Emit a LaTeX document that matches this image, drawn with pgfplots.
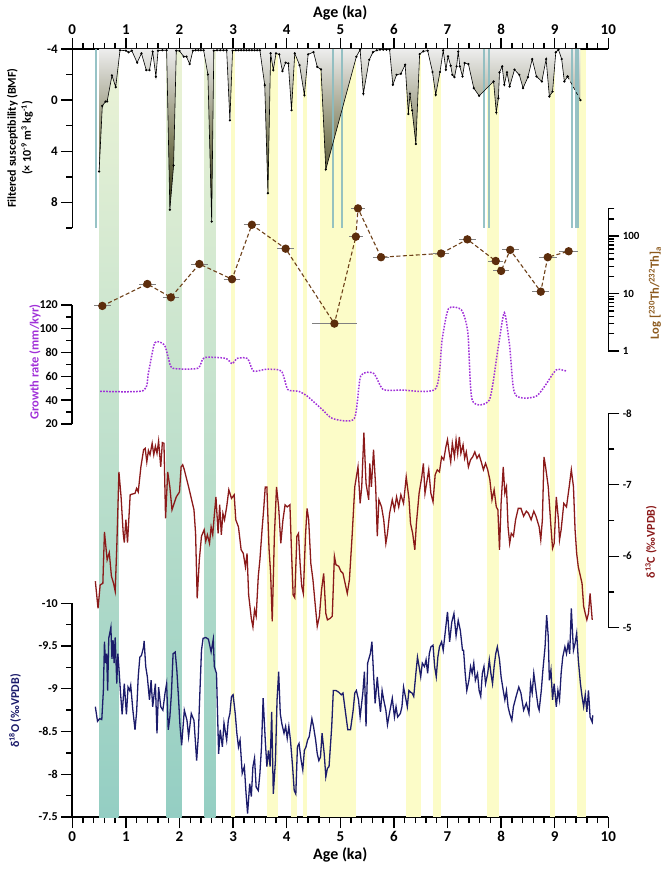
\documentclass[border=0pt]{standalone}
\usepackage{fontspec}
\setmainfont{Carlito}
\usepackage{pgfplots}
\pgfplotsset{compat=1.18}
\definecolor{bandyellow}{RGB}{252,252,200}
\definecolor{bandtop}{RGB}{236,243,214}
\definecolor{bandbot}{RGB}{148,206,195}
\definecolor{tealline}{RGB}{140,188,192}
\definecolor{brownpt}{RGB}{92,45,12}
\definecolor{brownln}{RGB}{110,65,25}
\definecolor{brownlab}{RGB}{140,90,30}
\definecolor{purp}{RGB}{160,48,216}
\definecolor{dred}{RGB}{139,26,26}
\definecolor{navyb}{RGB}{28,28,107}
\pgfplotsset{
  base/.style={scale only axis, width=536pt, xmin=0, xmax=10, anchor=south west,
    tick align=outside, major tick length=11pt, minor tick length=6pt,
    axis line style={line width=1.6pt, black}, tick style={line width=1.4pt, black},
    /pgf/number format/assume math mode=true, clip=false},
  leftpanel/.style={base, axis x line=none, axis y line*=left,
    yticklabel style={font=\fontsize{12}{12}\selectfont\bfseries}},
  rightpanel/.style={base, axis x line=none, axis y line*=right,
    yticklabel style={font=\fontsize{11}{11}\selectfont\bfseries}},
}
\begin{document}
\begin{tikzpicture}
\useasboundingbox (0pt,0pt) rectangle (671pt,871pt);
% background bands + bottom x axis
\begin{axis}[base, at={(72.3pt,54pt)}, height=768pt, ymin=0, ymax=1,
  axis y line=none, axis x line*=bottom, xtick={0,1,...,10}, minor x tick num=4,
  xticklabel style={font=\fontsize{15}{15}\selectfont\bfseries}]
\pgfplotsinvokeforeach{{0.50/0.86},{1.76/2.04},{2.47/2.67}}{
  \pgfplotsforeachungrouped \a/\b in {#1}{
  \edef\tmp{\noexpand\addplot[draw=none, top color=bandtop, bottom color=bandbot] coordinates {(\a,0) (\b,0) (\b,1) (\a,1)};}\tmp}
}
\pgfplotsinvokeforeach{{2.97/3.04},{3.64/3.83},{4.08/4.19},{4.30/4.38},{4.63/5.29},{6.23/6.51},{6.73/6.87},{7.74/7.96},{8.91/9.01},{9.42/9.58}}{
  \pgfplotsforeachungrouped \a/\b in {#1}{
  \edef\tmp{\noexpand\addplot[draw=none, fill=bandyellow] coordinates {(\a,0) (\b,0) (\b,1) (\a,1)};}\tmp}
}
\end{axis}
% top x axis
\begin{axis}[base, at={(72.3pt,54pt)}, height=768pt, ymin=0, ymax=1,
  axis y line=none, axis x line*=top, xticklabel pos=upper, xtick={0,1,...,10}, minor x tick num=4,
  xticklabel style={font=\fontsize{15}{15}\selectfont\bfseries}]
\end{axis}
% filtered susceptibility
\begin{axis}[leftpanel, at={(72.3pt,643pt)}, height=179pt, ymin=-4, ymax=10, y dir=reverse,
  ytick={-4,0,4,8}, minor ytick={-2,2,6,10},
  yticklabel style={font=\fontsize{13}{13}\selectfont\bfseries}]
\addplot[draw=none, top color=black!7, bottom color=black!75!olive] coordinates {
(0.50,-4)(0.50,5.58)(0.56,0.45)(0.62,0.11)(0.65,0.1)(0.74,-1.93)(0.81,-1.02)(0.89,-3.9)(1.0,-3.87)(1.05,-3.74)(1.11,-3.87)(1.21,-2.93)(1.29,-3.66)(1.38,-2.35)(1.44,-2.35)(1.50,-3.79)(1.56,-1.83)(1.60,-3.87)(1.68,-3.9)(1.76,-3.9)(1.82,8.57)(1.89,5.1)(1.94,-3.87)(2.00,-3.85)(2.08,-3.4)(2.13,-3.4)(2.19,-2.82)(2.25,-3.87)(2.45,-3.9)(2.53,-2.0)(2.60,9.5)(2.64,-3.87)(2.88,-3.9)(2.94,1.58)(2.99,-3.87)(3.5,-3.9)(3.59,-1.17)(3.65,7.28)(3.70,-3.66)(3.75,-2.35)(3.80,-3.66)(3.86,-3.58)(3.92,-2.27)(3.98,-2.93)(4.03,-2.87)(4.09,0.79)(4.15,-3.66)(4.24,-2.74)(4.33,-0.39)(4.40,-3.58)(4.50,-3.76)(4.57,-2.6)(4.64,-2.4)(4.73,5.42)(5.3,-3.4)(5.37,-3.95)(5.43,-0.5)(5.54,-3.16)(5.61,-3.76)(5.74,-3.95)(5.92,-3.95)(5.98,-1.2)(6.05,-1.98)(6.13,-2.06)(6.21,-2.77)(6.27,1.08)(6.30,-0.5)(6.34,0.8)(6.41,3.43)(6.48,-3.6)(6.55,-3.82)(6.63,-3.87)(6.72,-2.2)(6.78,-0.41)(6.86,-2.2)(6.92,-3.9)(6.97,-2.38)(7.01,-3.42)(7.06,-2.69)(7.09,-1.98)(7.13,-1.8)(7.17,-2.64)(7.20,-3.8)(7.23,-2.64)(7.28,-1.85)(7.32,-2.9)(7.39,-2.82)(7.49,-0.94)(7.59,-0.34)(7.86,-1.46)(7.91,0.97)(7.95,-0.15)(7.97,-2.17)(8.02,-2.64)(8.06,-1.2)(8.11,-2.17)(8.16,-1.07)(8.25,-2.38)(8.34,-1.98)(8.41,-0.94)(8.50,-1.8)(8.58,-3.21)(8.66,-1.85)(8.76,-1.46)(8.84,-3.21)(8.90,-0.28)(8.96,-0.67)(9.02,-3.74)(9.07,-3.95)(9.13,-3.21)(9.18,-1.46)(9.24,-1.85)(9.48,0.0)(9.48,-4)};
\pgfplotsinvokeforeach{0.44,4.86,5.03,7.68,7.78,9.32,9.39,9.44}{
  \addplot[tealline, line width=2.2pt, opacity=0.9] coordinates {(#1,-4) (#1,10)};}
\addplot[black, line width=0.6pt, mark=*, mark size=0.8pt] coordinates {
(0.50,5.58)(0.56,0.45)(0.62,0.11)(0.65,0.1)(0.74,-1.93)(0.81,-1.02)(0.89,-3.9)(1.0,-3.87)(1.05,-3.74)(1.11,-3.87)(1.21,-2.93)(1.29,-3.66)(1.38,-2.35)(1.44,-2.35)(1.50,-3.79)(1.56,-1.83)(1.60,-3.87)(1.68,-3.9)(1.76,-3.9)(1.82,8.57)(1.89,5.1)(1.94,-3.87)(2.00,-3.85)(2.08,-3.4)(2.13,-3.4)(2.19,-2.82)(2.25,-3.87)(2.3,-3.9)(2.35,-3.9)(2.4,-3.9)(2.45,-3.9)(2.53,-2.0)(2.60,9.5)(2.64,-3.87)(2.70,-3.9)(2.76,-3.9)(2.82,-3.9)(2.88,-3.9)(2.94,1.58)(2.99,-3.87)(3.05,-3.9)(3.1,-3.9)(3.15,-3.9)(3.2,-3.9)(3.25,-3.9)(3.3,-3.9)(3.35,-3.9)(3.4,-3.9)(3.45,-3.9)(3.5,-3.9)(3.59,-1.17)(3.65,7.28)(3.70,-3.66)(3.75,-2.35)(3.80,-3.66)(3.86,-3.58)(3.92,-2.27)(3.98,-2.93)(4.03,-2.87)(4.09,0.79)(4.15,-3.66)(4.24,-2.74)(4.33,-0.39)(4.40,-3.58)(4.50,-3.76)(4.57,-2.6)(4.64,-2.4)(4.73,5.42)(5.3,-3.4)(5.37,-3.95)(5.43,-0.5)(5.54,-3.16)(5.61,-3.76)(5.68,-3.9)(5.74,-3.95)(5.80,-3.95)(5.86,-3.95)(5.92,-3.95)(5.98,-1.2)(6.05,-1.98)(6.13,-2.06)(6.21,-2.77)(6.27,1.08)(6.30,-0.5)(6.34,0.8)(6.41,3.43)(6.48,-3.6)(6.55,-3.82)(6.63,-3.87)(6.72,-2.2)(6.78,-0.41)(6.86,-2.2)(6.92,-3.9)(6.97,-2.38)(7.01,-3.42)(7.06,-2.69)(7.09,-1.98)(7.13,-1.8)(7.17,-2.64)(7.20,-3.8)(7.23,-2.64)(7.28,-1.85)(7.32,-2.9)(7.39,-2.82)(7.49,-0.94)(7.59,-0.34)(7.86,-1.46)(7.91,0.97)(7.95,-0.15)(7.97,-2.17)(8.02,-2.64)(8.06,-1.2)(8.11,-2.17)(8.16,-1.07)(8.25,-2.38)(8.34,-1.98)(8.41,-0.94)(8.50,-1.8)(8.58,-3.21)(8.66,-1.85)(8.76,-1.46)(8.84,-3.21)(8.90,-0.28)(8.96,-0.67)(9.02,-3.74)(9.07,-3.95)(9.13,-3.21)(9.18,-1.46)(9.24,-1.85)};
\addplot[black, line width=0.6pt, dashed, mark=*, mark size=0.8pt, mark options={solid}] coordinates {(9.24,-1.85)(9.48,0.0)};
\end{axis}
% Log Th ratio
\begin{axis}[rightpanel, at={(72.3pt,520pt)}, height=142.2pt, ymode=log, ymin=1, ymax=300,
  ytick={1,10,100}, yticklabels={1,10,100},
  minor ytick={2,3,4,5,6,7,8,9,20,30,40,50,60,70,80,90,200,300}]
\addplot[brownln, line width=1.1pt, dash pattern=on 4pt off 2.5pt, mark=*, mark size=3.6pt,
  mark options={solid, fill=brownpt, draw=brownpt},
  error bars/.cd, x dir=both, x explicit,
  error bar style={black!50, line width=0.9pt, solid},
  error mark options={black!50, mark size=4pt, line width=0.9pt}]
coordinates {
(0.56,6.1) +- (0.08,0)
(1.40,14.7) +- (0.08,0)
(1.84,8.6) +- (0.08,0)
(2.37,32.8) +- (0.08,0)
(2.98,17.8) +- (0.08,0)
(3.35,158) +- (0.08,0)
(3.98,60.6) +- (0.08,0)
(4.89,3.0) +- (0.34,0)
(5.29,98) +- (0.05,0)
(5.33,305) +- (0.05,0)
(5.76,43) +- (0.08,0)
(6.88,50) +- (0.08,0)
(7.37,88) +- (0.08,0)
(7.90,37) +- (0.07,0)
(8.00,24.8) +- (0.07,0)
(8.17,57.6) +- (0.08,0)
(8.74,10.8) +- (0.08,0)
(8.87,43) +- (0.09,0)
(9.26,54.6) +- (0.1,0)
};
\end{axis}
% growth rate
\begin{axis}[leftpanel, at={(72.3pt,447pt)}, height=119pt, ymin=20, ymax=120,
  ytick={20,40,...,120}, minor ytick={30,50,...,110}]
\addplot[purp, line width=1.5pt, dash pattern=on 1.6pt off 1.4pt, smooth, tension=0.4] coordinates {
(0.52,47.5)(1.32,48)(1.42,63)(1.54,88.3)(1.72,86.4)(1.80,74)(1.88,66.8)(2.34,66.8)(2.46,75.7)(2.86,75.2)(2.98,70.7)(3.08,75.2)(3.27,75)(3.38,64.5)(3.62,66)(3.90,64.5)(4.02,49)(4.22,47.5)(4.38,43.5)(4.66,32.3)(4.86,24.5)(5.26,24.5)(5.38,60.3)(5.62,62.6)(5.80,49)(6.14,48.6)(6.78,49.7)(6.90,91)(7.02,117)(7.26,115.8)(7.38,96.7)(7.46,40.2)(7.78,40.2)(7.94,82.7)(8.06,113.6)(8.16,85.5)(8.26,45)(8.66,43.5)(8.98,63)(9.06,66)(9.22,64.5)};
\end{axis}
% d13C
\begin{axis}[rightpanel, at={(72.3pt,243.3pt)}, height=214.4pt, ymin=-8, ymax=-5, y dir=reverse,
  ytick={-8,-7,-6,-5}, yticklabels={-8,-7,-6,-5}, minor ytick={-7.5,-6.5,-5.5}]
\addplot[dred, line width=1.3pt] coordinates {
(0.43,-5.65)(0.48,-5.27)(0.52,-5.60)(0.57,-5.62)(0.60,-6.34)(0.65,-5.95)(0.69,-6.05)(0.73,-5.72)(0.77,-5.62)(0.80,-5.51)(0.83,-6.13)(0.87,-7.18)(0.91,-6.83)(0.95,-6.32)(0.97,-6.19)(1.00,-6.51)(1.03,-6.19)(1.08,-6.86)(1.12,-6.87)(1.17,-6.88)(1.20,-6.95)(1.23,-6.90)(1.28,-7.25)(1.33,-7.49)(1.36,-7.51)(1.39,-7.32)(1.42,-7.48)(1.45,-7.42)(1.49,-7.58)(1.52,-7.42)(1.55,-7.54)(1.58,-7.44)(1.61,-7.61)(1.65,-7.25)(1.68,-7.59)(1.71,-7.58)(1.74,-6.53)(1.78,-7.18)(1.82,-6.97)(1.86,-6.65)(1.90,-6.74)(1.94,-6.83)(2.00,-6.90)(2.03,-7.25)(2.06,-7.28)(2.09,-7.21)(2.13,-7.09)(2.17,-6.97)(2.22,-6.81)(2.27,-6.65)(2.30,-6.32)(2.33,-5.41)(2.37,-5.95)(2.41,-6.28)(2.46,-6.37)(2.49,-6.21)(2.52,-6.30)(2.56,-6.18)(2.59,-6.41)(2.62,-6.30)(2.65,-6.58)(2.68,-6.83)(2.72,-6.32)(2.75,-6.72)(2.78,-6.30)(2.81,-6.60)(2.84,-6.51)(2.88,-6.69)(2.92,-6.93)(2.97,-6.81)(3.02,-6.86)(3.05,-6.51)(3.10,-6.41)(3.15,-6.09)(3.19,-6.04)(3.23,-5.85)(3.26,-6.04)(3.29,-5.46)(3.34,-5.13)(3.37,-5.01)(3.40,-5.25)(3.43,-5.16)(3.47,-5.72)(3.50,-5.95)(3.54,-6.37)(3.57,-6.65)(3.60,-6.97)(3.63,-6.97)(3.67,-6.11)(3.70,-5.76)(3.73,-5.09)(3.77,-6.28)(3.81,-6.97)(3.85,-6.69)(3.89,-6.18)(3.93,-6.51)(3.97,-6.72)(4.01,-6.69)(4.06,-6.72)(4.09,-6.06)(4.12,-5.46)(4.15,-5.42)(4.19,-6.28)(4.22,-6.32)(4.25,-5.90)(4.28,-5.58)(4.31,-5.48)(4.35,-6.28)(4.38,-6.67)(4.41,-6.51)(4.45,-5.90)(4.49,-5.67)(4.53,-5.34)(4.57,-5.02)(4.61,-5.16)(4.65,-5.53)(4.69,-5.76)(4.73,-5.20)(4.76,-5.11)(4.81,-5.13)(4.85,-5.16)(4.89,-6.00)(4.92,-5.88)(4.97,-5.86)(5.01,-5.79)(5.05,-5.76)(5.09,-5.62)(5.13,-5.48)(5.17,-5.67)(5.22,-6.28)(5.27,-6.97)(5.33,-7.25)(5.37,-6.74)(5.40,-6.97)(5.44,-7.73)(5.48,-7.02)(5.53,-6.79)(5.55,-7.30)(5.58,-6.97)(5.62,-7.49)(5.66,-6.97)(5.69,-6.28)(5.72,-6.79)(5.77,-6.69)(5.81,-6.51)(5.85,-6.18)(5.88,-6.32)(5.92,-6.60)(5.97,-6.79)(6.01,-6.65)(6.05,-6.83)(6.09,-6.69)(6.13,-6.86)(6.18,-6.74)(6.23,-7.11)(6.28,-6.81)(6.31,-6.46)(6.35,-6.32)(6.39,-6.09)(6.42,-6.46)(6.47,-6.88)(6.52,-7.11)(6.55,-7.30)(6.58,-6.88)(6.61,-7.02)(6.65,-7.21)(6.69,-6.88)(6.73,-6.76)(6.77,-7.14)(6.81,-7.21)(6.85,-7.18)(6.89,-7.39)(6.93,-7.35)(6.97,-7.53)(7.00,-7.63)(7.03,-7.46)(7.06,-7.32)(7.09,-7.58)(7.13,-7.39)(7.16,-7.63)(7.19,-7.44)(7.22,-7.67)(7.25,-7.44)(7.29,-7.56)(7.32,-7.37)(7.35,-7.46)(7.39,-7.25)(7.43,-7.35)(7.47,-7.39)(7.51,-7.46)(7.55,-7.37)(7.59,-7.42)(7.63,-7.32)(7.67,-7.21)(7.71,-7.30)(7.75,-7.21)(7.79,-7.07)(7.83,-6.79)(7.87,-6.93)(7.91,-6.69)(7.94,-6.65)(7.97,-6.09)(8.00,-6.74)(8.04,-7.25)(8.07,-6.88)(8.10,-6.97)(8.13,-6.41)(8.16,-6.18)(8.19,-6.32)(8.23,-6.28)(8.27,-6.51)(8.32,-6.67)(8.37,-6.67)(8.42,-6.56)(8.47,-6.63)(8.51,-6.60)(8.56,-6.51)(8.61,-6.63)(8.65,-6.56)(8.71,-6.41)(8.74,-6.23)(8.77,-6.51)(8.80,-7.39)(8.83,-7.25)(8.88,-6.97)(8.93,-6.41)(8.96,-6.11)(8.99,-6.18)(9.03,-6.83)(9.07,-6.51)(9.09,-6.23)(9.12,-6.37)(9.17,-6.74)(9.22,-6.69)(9.27,-6.97)(9.31,-7.21)(9.35,-6.97)(9.38,-6.37)(9.41,-6.04)(9.44,-5.85)(9.48,-5.72)(9.51,-5.62)(9.54,-5.30)(9.57,-5.20)(9.60,-5.11)(9.63,-5.20)(9.66,-5.48)(9.70,-5.11)};
\end{axis}
% d18O
\begin{axis}[leftpanel, at={(72.3pt,54pt)}, height=213.7pt, ymin=-10, ymax=-7.5, y dir=reverse,
  ytick={-10,-9.5,-9,-8.5,-8,-7.5}, yticklabels={-10,-9.5,-9,-8.5,-8,-7.5},
  minor ytick={-9.75,-9.25,-8.75,-8.25,-7.75}]
\addplot[navyb, line width=1.3pt] coordinates {
(0.43,-8.79)(0.47,-8.62)(0.51,-8.65)(0.55,-8.64)(0.58,-8.98)(0.60,-9.55)(0.62,-9.30)(0.64,-9.41)(0.66,-8.98)(0.68,-9.59)(0.72,-9.72)(0.74,-9.35)(0.76,-9.57)(0.78,-9.30)(0.80,-9.60)(0.83,-9.06)(0.85,-9.41)(0.87,-9.24)(0.90,-8.95)(0.93,-8.70)(0.97,-9.06)(1.01,-8.70)(1.04,-9.02)(1.07,-8.98)(1.09,-9.04)(1.13,-8.75)(1.17,-8.52)(1.20,-8.73)(1.23,-9.14)(1.26,-9.37)(1.29,-9.39)(1.33,-9.49)(1.34,-9.56)(1.37,-9.26)(1.40,-9.14)(1.44,-8.87)(1.47,-9.10)(1.50,-8.79)(1.55,-9.06)(1.58,-8.48)(1.61,-9.02)(1.65,-8.79)(1.69,-8.75)(1.73,-8.95)(1.76,-9.06)(1.79,-8.52)(1.82,-8.67)(1.85,-8.95)(1.88,-9.41)(1.92,-9.43)(1.95,-9.22)(1.98,-8.91)(2.01,-8.56)(2.04,-8.34)(2.09,-8.75)(2.14,-8.63)(2.17,-8.44)(2.22,-8.71)(2.27,-8.63)(2.32,-8.16)(2.35,-8.44)(2.38,-8.95)(2.41,-9.45)(2.44,-9.59)(2.49,-9.60)(2.54,-9.58)(2.59,-9.43)(2.63,-9.58)(2.65,-9.26)(2.69,-9.18)(2.73,-8.24)(2.76,-8.52)(2.80,-8.32)(2.83,-8.60)(2.88,-8.40)(2.91,-8.63)(2.94,-8.71)(2.97,-8.91)(3.00,-8.93)(3.04,-8.71)(3.07,-8.48)(3.10,-8.32)(3.13,-8.40)(3.17,-8.01)(3.21,-8.09)(3.24,-7.79)(3.27,-7.54)(3.31,-7.89)(3.34,-7.74)(3.37,-8.09)(3.40,-8.19)(3.43,-7.85)(3.47,-7.81)(3.50,-8.01)(3.53,-8.32)(3.56,-8.89)(3.60,-8.40)(3.63,-8.09)(3.66,-8.28)(3.69,-8.09)(3.72,-8.73)(3.75,-7.77)(3.79,-8.16)(3.82,-8.87)(3.85,-9.20)(3.88,-8.71)(3.91,-8.59)(3.95,-8.48)(3.98,-8.56)(4.01,-8.42)(4.04,-8.56)(4.07,-8.40)(4.11,-8.09)(4.14,-7.81)(4.17,-7.77)(4.20,-8.32)(4.23,-8.36)(4.27,-8.16)(4.30,-8.05)(4.33,-8.28)(4.36,-8.32)(4.39,-8.40)(4.42,-8.44)(4.47,-8.65)(4.50,-8.56)(4.54,-8.40)(4.57,-8.24)(4.60,-8.16)(4.63,-8.20)(4.66,-8.48)(4.70,-8.24)(4.73,-7.97)(4.76,-8.07)(4.79,-8.09)(4.84,-8.56)(4.87,-8.98)(4.92,-8.98)(4.97,-8.96)(5.02,-8.93)(5.05,-8.95)(5.10,-8.71)(5.14,-8.52)(5.19,-8.52)(5.24,-8.75)(5.27,-8.95)(5.30,-8.98)(5.34,-8.87)(5.37,-8.67)(5.42,-8.95)(5.45,-9.20)(5.48,-8.56)(5.51,-9.30)(5.56,-9.41)(5.59,-9.55)(5.62,-9.18)(5.65,-8.83)(5.69,-9.14)(5.72,-8.91)(5.75,-8.73)(5.78,-8.98)(5.81,-8.87)(5.85,-8.75)(5.88,-8.58)(5.91,-8.69)(5.94,-8.79)(5.97,-8.89)(6.01,-8.67)(6.04,-8.79)(6.07,-8.67)(6.12,-8.71)(6.15,-8.79)(6.18,-9.02)(6.22,-8.89)(6.25,-8.79)(6.28,-8.98)(6.31,-8.96)(6.34,-8.95)(6.37,-8.91)(6.41,-9.18)(6.44,-9.37)(6.47,-9.26)(6.50,-9.14)(6.53,-9.30)(6.57,-9.26)(6.60,-9.34)(6.63,-9.18)(6.66,-9.41)(6.69,-9.49)(6.73,-9.51)(6.76,-9.26)(6.79,-9.14)(6.82,-9.37)(6.85,-9.49)(6.89,-9.55)(6.92,-9.45)(6.95,-9.62)(7.00,-9.90)(7.04,-9.55)(7.08,-9.78)(7.12,-9.88)(7.16,-9.62)(7.20,-9.80)(7.24,-9.68)(7.28,-9.45)(7.30,-9.45)(7.33,-9.18)(7.36,-8.98)(7.40,-9.10)(7.43,-9.26)(7.46,-9.18)(7.49,-9.30)(7.52,-9.10)(7.56,-9.18)(7.59,-8.98)(7.62,-8.91)(7.65,-9.18)(7.68,-9.26)(7.71,-9.06)(7.75,-9.18)(7.78,-9.34)(7.81,-9.18)(7.84,-9.06)(7.87,-9.26)(7.90,-9.41)(7.93,-9.49)(7.97,-9.34)(8.00,-9.14)(8.04,-8.98)(8.07,-8.87)(8.10,-8.98)(8.13,-8.79)(8.16,-8.71)(8.20,-8.63)(8.23,-8.79)(8.28,-8.91)(8.33,-9.02)(8.37,-8.95)(8.42,-8.75)(8.47,-8.83)(8.52,-8.71)(8.55,-9.06)(8.58,-8.95)(8.61,-9.18)(8.65,-8.98)(8.69,-8.79)(8.71,-8.75)(8.75,-8.98)(8.78,-9.22)(8.82,-9.49)(8.85,-9.86)(8.88,-9.61)(8.90,-9.10)(8.93,-9.22)(8.96,-8.87)(8.99,-9.06)(9.03,-8.79)(9.06,-8.98)(9.09,-8.87)(9.12,-9.18)(9.15,-9.37)(9.19,-9.49)(9.22,-9.41)(9.25,-9.53)(9.28,-9.41)(9.31,-9.94)(9.35,-9.45)(9.38,-9.53)(9.41,-9.65)(9.44,-9.34)(9.48,-9.06)(9.51,-8.91)(9.54,-8.79)(9.57,-8.93)(9.60,-8.73)(9.63,-8.98)(9.66,-8.67)(9.70,-8.61)(9.71,-8.69)};
\end{axis}
% titles
\node[font=\fontsize{16}{16}\selectfont\bfseries] at (340.3pt,858pt) {Age (ka)};
\node[font=\fontsize{16}{16}\selectfont\bfseries] at (340.3pt,16pt) {Age (ka)};
\node[rotate=90, align=center, font=\fontsize{12}{15}\selectfont\bfseries] at (20pt,733pt)
  {Filtered susceptibility (BMF)\\(× 10\textsuperscript{-9} m\textsuperscript{3} kg\textsuperscript{-1})};
\node[rotate=90, text=purp, font=\fontsize{12.5}{14}\selectfont\bfseries] at (35pt,509pt) {Growth rate (mm/kyr)};
\node[rotate=90, text=brownlab, font=\fontsize{12.5}{14}\selectfont\bfseries] at (655pt,578pt)
  {Log [\textsuperscript{230}Th/\textsuperscript{232}Th]\textsubscript{a}};
\node[rotate=90, text=dred, font=\fontsize{12}{14}\selectfont\bfseries] at (651pt,329pt) {δ\textsuperscript{13}C (‰VPDB)};
\node[rotate=90, text=navyb, font=\fontsize{12}{14}\selectfont\bfseries] at (15pt,160pt) {δ\textsuperscript{18}O (‰VPDB)};
\end{tikzpicture}
\end{document}
